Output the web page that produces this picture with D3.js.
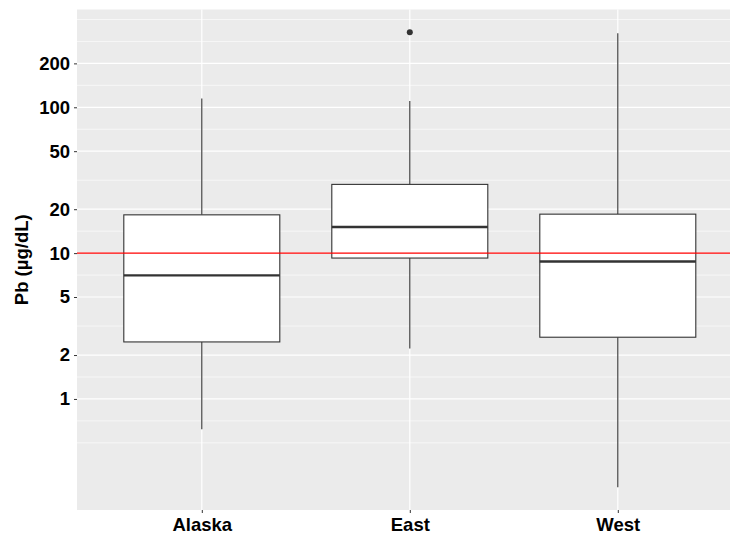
<!DOCTYPE html>
<html>
<head>
<meta charset="utf-8">
<script src="https://cdnjs.cloudflare.com/ajax/libs/d3/7.8.5/d3.min.js"></script>
<style>
  html, body { margin: 0; padding: 0; background: #fff; overflow: hidden; }
  svg { display: block; }
  text { font-family: "Liberation Sans", Arial, sans-serif; font-weight: bold; fill: #000; }
</style>
</head>
<body>
<div id="chart"></div>
<script>
// values (Pb in ug/dL)
var regions = ["Alaska", "East", "West"];
var whiskerLow = [0.62, 2.22, 0.248];
var q1 = [2.46, 9.25, 2.65];
var medians = [7.03, 15.1, 8.76];
var q3 = [18.3, 29.6, 18.5];
var whiskerHigh = [114.7, 110.4, 322];
var outliers = [[], [327], []];
var yTicks = [1, 2, 5, 10, 20, 50, 100, 200];
var refLine = 10;

var svgWidth = 730;
var svgHeight = 538;

var panel = { left: 77, top: 9.5, bottom: 510 };

var svg = d3.select("#chart")
    .append("svg")
    .attr("width", svgWidth)
    .attr("height", svgHeight);

// discrete x like ggplot: 0.6 units of padding each side
var x = d3.scaleLinear()
    .domain([0.4, regions.length + 0.6])
    .range([panel.left, panel.left + 208 * (regions.length + 0.2)]);
var panelRight = x(regions.length + 0.6);

// log y with 5% expansion of the data range
var allVals = whiskerLow.concat(whiskerHigh, d3.merge(outliers));
var lo = Math.log10(d3.min(allVals)), hi = Math.log10(d3.max(allVals));
var pad = (hi - lo) * 0.05;
var y = d3.scaleLog()
    .domain([Math.pow(10, lo - pad), Math.pow(10, hi + pad)])
    .range([panel.bottom, panel.top]);

svg.append("rect")
    .attr("x", panel.left)
    .attr("y", panel.top)
    .attr("width", panelRight - panel.left)
    .attr("height", panel.bottom - panel.top)
    .attr("fill", "#EBEBEB");

// minor breaks the way ggplot builds them (midpoints in log space, extended one step)
var lt = yTicks.map(function(v) { return Math.log10(v); });
var step = lt[1] - lt[0];
var ext = [lt[0] - step].concat(lt, [lt[lt.length - 1] + step]);
var minor = [];
for (var i = 0; i < ext.length - 1; i++) {
    minor.push(ext[i], (ext[i] + ext[i + 1]) / 2);
}
minor.push(ext[ext.length - 1]);
minor = minor.filter(function(m) {
    return !lt.some(function(t) { return Math.abs(t - m) < 1e-9; });
}).map(function(m) { return Math.pow(10, m); });

var grid = svg.append("g");
grid.selectAll(".minor")
    .data(minor)
    .enter()
    .append("line")
    .attr("x1", panel.left)
    .attr("x2", panelRight)
    .attr("y1", d => y(d))
    .attr("y2", d => y(d))
    .attr("stroke", "#fff")
    .attr("stroke-width", 0.6);

grid.selectAll(".major")
    .data(yTicks)
    .enter()
    .append("line")
    .attr("x1", panel.left)
    .attr("x2", panelRight)
    .attr("y1", d => y(d))
    .attr("y2", d => y(d))
    .attr("stroke", "#fff")
    .attr("stroke-width", 1.2);

grid.selectAll(".vert")
    .data(regions)
    .enter()
    .append("line")
    .attr("x1", (d, i) => x(i + 1))
    .attr("x2", (d, i) => x(i + 1))
    .attr("y1", panel.top)
    .attr("y2", panel.bottom)
    .attr("stroke", "#fff")
    .attr("stroke-width", 1.2);

// boxes
var boxW = 0.75 * (x(2) - x(1));
var boxes = svg.selectAll(".box")
    .data(regions)
    .enter()
    .append("g");

boxes.append("line")
    .attr("x1", (d, i) => x(i + 1))
    .attr("x2", (d, i) => x(i + 1))
    .attr("y1", (d, i) => y(q3[i]))
    .attr("y2", (d, i) => y(whiskerHigh[i]))
    .attr("stroke", "#333")
    .attr("stroke-width", 1.1);

boxes.append("line")
    .attr("x1", (d, i) => x(i + 1))
    .attr("x2", (d, i) => x(i + 1))
    .attr("y1", (d, i) => y(q1[i]))
    .attr("y2", (d, i) => y(whiskerLow[i]))
    .attr("stroke", "#333")
    .attr("stroke-width", 1.1);

boxes.append("rect")
    .attr("x", (d, i) => x(i + 1) - boxW / 2)
    .attr("y", (d, i) => y(q3[i]))
    .attr("width", boxW)
    .attr("height", (d, i) => y(q1[i]) - y(q3[i]))
    .attr("fill", "#fff")
    .attr("stroke", "#333")
    .attr("stroke-width", 1.1);

boxes.append("line")
    .attr("x1", (d, i) => x(i + 1) - boxW / 2)
    .attr("x2", (d, i) => x(i + 1) + boxW / 2)
    .attr("y1", (d, i) => y(medians[i]))
    .attr("y2", (d, i) => y(medians[i]))
    .attr("stroke", "#333")
    .attr("stroke-width", 2.3);

boxes.each(function(d, i) {
    d3.select(this).selectAll("circle")
        .data(outliers[i])
        .enter()
        .append("circle")
        .attr("cx", x(i + 1))
        .attr("cy", v => y(v))
        .attr("r", 3)
        .attr("fill", "#333");
});

// reference line at 10
svg.append("line")
    .attr("x1", panel.left)
    .attr("x2", panelRight)
    .attr("y1", y(refLine))
    .attr("y2", y(refLine))
    .attr("stroke", "#FF0000")
    .attr("stroke-width", 1.1);

// axes
var leftAxis = d3.axisLeft(y)
    .tickValues(yTicks)
    .tickFormat(d3.format("d"))
    .tickSize(3)
    .tickPadding(4);

var yAxis = svg.append("g")
    .attr("transform", `translate(${panel.left}, 0)`)
    .call(leftAxis);
yAxis.select(".domain").remove();
yAxis.selectAll("line").attr("stroke", "#333");
yAxis.selectAll("text")
    .attr("fill", "#000")
    .attr("font-size", 18.5)
    .attr("font-family", "Liberation Sans, Arial, sans-serif")
    .attr("font-weight", "bold");

var bottomAxis = d3.axisBottom(x)
    .tickValues(d3.range(1, regions.length + 1))
    .tickFormat(d => regions[d - 1])
    .tickSize(3)
    .tickPadding(5);

var xAxis = svg.append("g")
    .attr("transform", `translate(0, ${panel.bottom})`)
    .call(bottomAxis);
xAxis.select(".domain").remove();
xAxis.selectAll("line").attr("stroke", "#333");
xAxis.selectAll("text")
    .attr("fill", "#000")
    .attr("font-size", 18.5)
    .attr("font-family", "Liberation Sans, Arial, sans-serif")
    .attr("font-weight", "bold");

svg.append("text")
    .attr("transform", `translate(28, ${(panel.top + panel.bottom) / 2}) rotate(-90)`)
    .attr("text-anchor", "middle")
    .attr("font-size", 18.5)
    .text("Pb (\u00b5g/dL)");
</script>
</body>
</html>
